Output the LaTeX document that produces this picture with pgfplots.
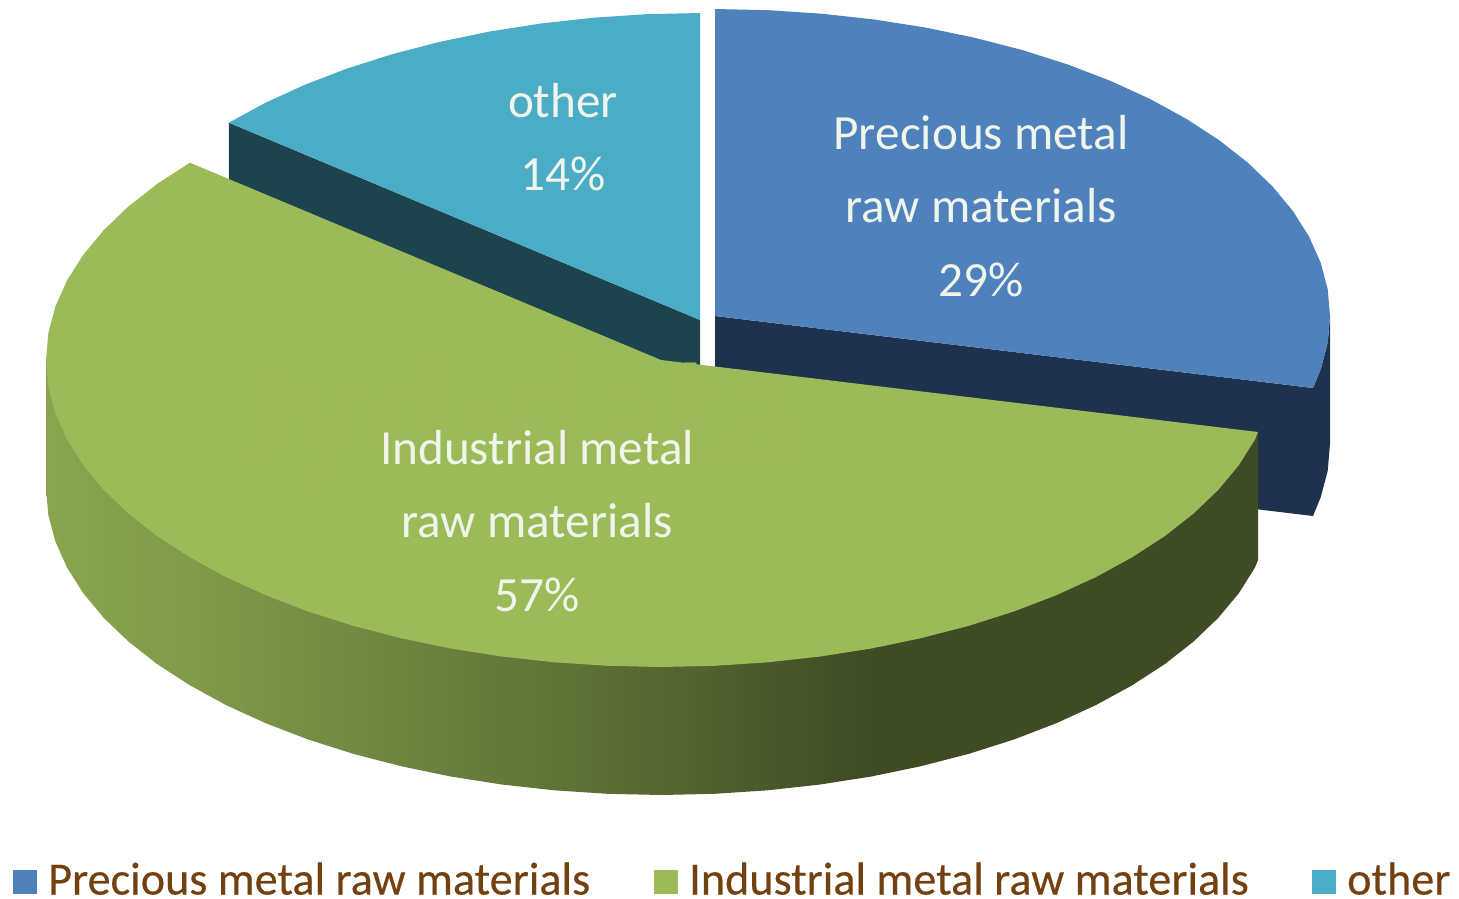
\documentclass[border=0pt]{standalone}
\usepackage{pgfplots}
\pgfplotsset{compat=1.18}
\usepackage{fontspec}
\setmainfont{Carlito}
\definecolor{cblue}{RGB}{79,129,189}
\definecolor{cbluedark}{RGB}{31,50,77}
\definecolor{cgreen}{RGB}{155,187,89}
\definecolor{ccyan}{RGB}{75,172,198}
\definecolor{ccyandark}{RGB}{29,67,78}
\definecolor{clegend}{RGB}{115,65,15}
\definecolor{clabel}{RGB}{240,245,235}
\definecolor{cwater}{RGB}{157,184,86}
\pgfdeclarehorizontalshading{greenside}{100bp}{
  color(0bp)=(cgreen!88!black);
  color(25bp)=(cgreen!88!black);
  color(31.35bp)=(cgreen!82!black);
  color(40.4bp)=(cgreen!70!black);
  color(51.2bp)=(cgreen!54!black);
  color(59bp)=(cgreen!40!black);
  color(100bp)=(cgreen!40!black)}
\begin{document}
\begin{tikzpicture}
\begin{axis}[
  scale only axis, width=1459pt, height=898pt,
  xmin=0, xmax=1459, ymin=0, ymax=898, y dir=reverse,
  hide axis, clip=false,
  every axis plot/.append style={draw=none, line width=0pt}]
\path (rel axis cs:0,0) rectangle (rel axis cs:1,1);
% blue wall
\addplot[fill=cbluedark] coordinates {(715,316)(1313,388)(1313,516)(715,444)} -- cycle;
\addplot[fill=cbluedark] coordinates {(1330,316)(1327.7,342.8)(1320.7,369.3)(1313,388)(1313,516)(1320.7,497.3)(1327.7,470.8)(1330,444)} -- cycle;
% blue top
\addplot[fill=cblue] coordinates {(715,316)(715,9)(768.6,10.2)(821.8,13.7)(874.2,19.5)(925.3,27.5)(974.9,37.8)(1022.5,50.1)(1067.8,64.5)(1110.3,80.8)(1149.9,98.9)(1186.1,118.7)(1218.8,139.9)(1247.6,162.5)(1272.4,186.3)(1292.9,211)(1309,236.5)(1320.7,262.7)(1327.7,289.2)(1330,316)(1327.7,342.8)(1320.7,369.3)(1313,388)} -- cycle;
% cyan wall
\addplot[fill=ccyandark] coordinates {(228.9,122.7)(700,320)(700,448)(228.9,250.7)} -- cycle;
% cyan top
\addplot[fill=ccyan] coordinates {(700,320)(700,13)(646.4,14.2)(593.2,17.7)(540.8,23.5)(489.7,31.5)(440.1,41.8)(392.5,54.1)(347.2,68.5)(304.7,84.8)(265.1,102.9)(228.9,122.7)} -- cycle;
% green side
\addplot[shading=greenside] coordinates {(46,360)(46,488)(48.3,514.8)(55.3,541.3)(67,567.5)(83.1,593)(103.6,617.7)(128.4,641.5)(157.2,664.1)(189.9,685.3)(226.1,705.1)(265.7,723.2)(308.2,739.5)(353.5,753.9)(401.1,766.2)(450.7,776.5)(501.8,784.5)(554.2,790.3)(607.4,793.8)(661,795)(714.6,793.8)(767.8,790.3)(820.2,784.5)(871.3,776.5)(920.9,766.2)(968.5,753.9)(1013.8,739.5)(1056.3,723.2)(1095.9,705.1)(1132.1,685.3)(1164.8,664.1)(1193.6,641.5)(1218.4,617.7)(1239,593)(1255,567.5)(1258,560)(1258,432)} -- cycle;
% green top
\addplot[fill=cgreen] coordinates {(661,360)(1258,432)(1255,439.5)(1239,465)(1218.4,489.7)(1193.6,513.5)(1164.8,536.1)(1132.1,557.3)(1095.9,577.1)(1056.3,595.2)(1013.8,611.5)(968.5,625.9)(920.9,638.2)(871.3,648.5)(820.2,656.5)(767.8,662.3)(714.6,665.8)(661,667)(607.4,665.8)(554.2,662.3)(501.8,656.5)(450.7,648.5)(401.1,638.2)(353.5,625.9)(308.2,611.5)(265.7,595.2)(226.1,577.1)(189.9,557.3)(157.2,536.1)(128.4,513.5)(103.6,489.7)(83.1,465)(67,439.5)(55.3,413.3)(48.3,386.8)(46,360)(48.3,333.2)(55.3,306.7)(67,280.5)(83.1,255)(103.6,230.3)(128.4,206.5)(157.2,183.9)(189.9,162.7)} -- cycle;
% legend swatches
\addplot[fill=cblue] coordinates {(13,870)(37,870)(37,894)(13,894)} -- cycle;
\addplot[fill=cgreen] coordinates {(654,870)(678,870)(678,894)(654,894)} -- cycle;
\addplot[fill=ccyan] coordinates {(1312,870)(1336,870)(1336,894)(1312,894)} -- cycle;
% watermark
\node[anchor=base west, text=cwater, font=\fontsize{161}{165}\selectfont\bfseries, inner sep=0pt] at (axis cs:236,464) {Jyd-data};
% data labels
\def\lab#1#2#3{\node[anchor=base, text=clabel, font=\fontsize{49.2}{54}\selectfont, inner sep=0pt] at (axis cs:#1,#2) {#3};}
\lab{981}{149}{Precious metal}
\lab{981}{222}{raw materials}
\lab{981}{296}{29\%}
\lab{537}{464}{Industrial metal}
\lab{537}{537}{raw materials}
\lab{537}{611}{57\%}
\lab{563}{117}{other}
\lab{563}{190}{14\%}
% legend text
\def\leg#1#2{\node[anchor=base west, text=clegend, font=\fontsize{46.2}{50}\selectfont\addfontfeature{FakeBold=0.4}, inner sep=0pt] at (axis cs:#1,894.5) {#2};}
\leg{48}{Precious metal raw materials}
\leg{689}{Industrial metal raw materials}
\leg{1347}{other}
\end{axis}
\end{tikzpicture}
\end{document}
